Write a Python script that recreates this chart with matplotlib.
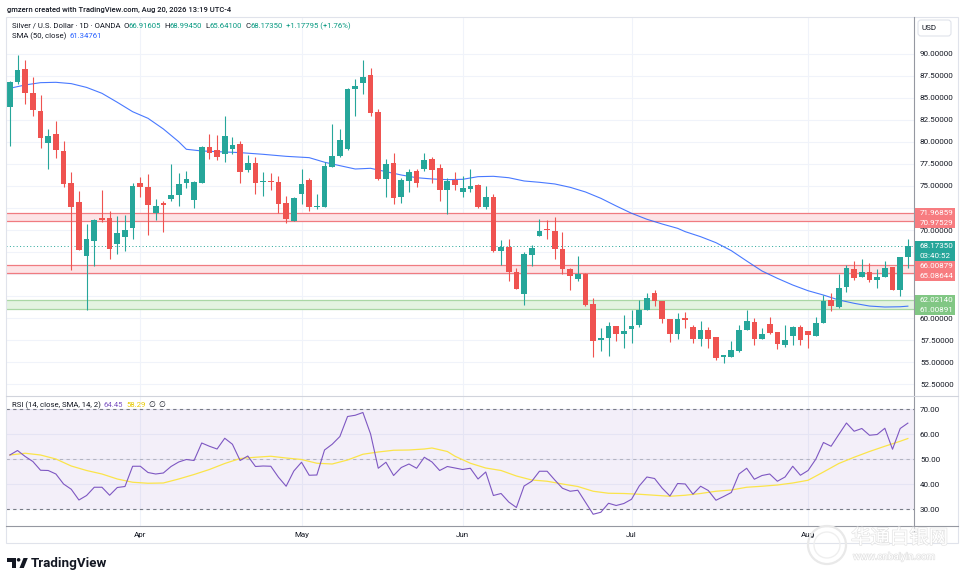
import matplotlib
matplotlib.use("Agg")
import matplotlib.pyplot as plt
import matplotlib.transforms as mtransforms
import matplotlib.patheffects as pe
from matplotlib.patches import Rectangle, Polygon, Circle, FancyBboxPatch
from matplotlib.lines import Line2D
import numpy as np
import pandas as pd

plt.rcParams["font.family"] = ["Roboto", "DejaVu Sans"]

# daily bars, OANDA XAG/USD (no bar on Good Friday)
dates = pd.bdate_range("2026-03-09", "2026-08-20")
dates = dates[dates != pd.Timestamp("2026-04-03")]

opens = [83.98, 86.82, 88.30, 85.57, 83.52, 79.89, 80.91, 78.98, 75.34, 73.18,
         67.08, 68.78, 71.40, 71.36, 68.41, 69.24, 70.19, 75.34, 74.89, 71.97,
         73.07, 73.56, 74.01, 75.38, 73.44, 75.38, 79.47, 79.06, 78.60, 79.24,
         79.77, 76.85, 77.61, 75.45, 75.49, 75.45, 73.07, 71.06, 74.13, 75.68,
         72.61, 72.65, 77.20, 78.44, 79.24, 86.06, 86.74, 87.58, 83.41, 75.83,
         77.61, 73.78, 75.60, 76.70, 76.97, 78.07, 77.05, 74.55, 75.68, 74.35,
         74.66, 75.11, 72.58, 73.75, 67.65, 68.03, 65.23, 62.76, 67.20, 69.35,
         70.04, 69.89, 67.80, 65.57, 64.47, 65.00, 61.59, 57.53, 57.76, 59.06,
         58.22, 58.75, 59.24, 60.94, 62.84, 61.90, 59.89, 58.22, 59.96, 58.94,
         57.58, 58.67, 57.81, 55.60, 55.60, 56.25, 58.67, 59.50, 57.58, 59.32,
         58.41, 56.97, 57.95, 58.98, 58.52, 57.95, 59.47, 62.05, 61.29, 63.49,
         65.57, 64.66, 65.23, 64.28, 64.66, 65.83, 63.22, 66.91605]
highs = [86.93, 89.90, 89.30, 87.35, 85.34, 81.48, 82.42, 80.11, 76.59, 74.43,
         70.68, 71.20, 74.55, 72.16, 71.59, 71.70, 75.30, 76.02, 76.33, 73.52,
         73.30, 77.50, 76.51, 76.70, 75.57, 79.58, 80.91, 80.80, 82.95, 80.57,
         80.11, 78.52, 78.26, 76.59, 76.48, 76.10, 73.86, 73.79, 76.90, 75.91,
         74.09, 77.70, 82.05, 81.48, 86.10, 87.16, 89.32, 88.37, 83.72, 78.07,
         78.75, 75.88, 76.97, 76.93, 78.72, 78.30, 77.53, 75.94, 76.59, 76.14,
         76.93, 75.23, 75.00, 74.06, 68.90, 68.98, 65.68, 67.50, 68.30, 71.25,
         71.17, 71.48, 69.81, 65.72, 67.05, 65.08, 62.24, 58.90, 59.51, 59.13,
         60.34, 60.88, 62.05, 62.88, 63.22, 61.90, 59.89, 60.60, 60.68, 59.17,
         59.62, 58.98, 57.88, 55.80, 57.35, 59.17, 60.88, 60.00, 58.90, 60.08,
         58.41, 59.17, 59.09, 59.17, 58.52, 60.08, 62.65, 62.80, 65.03, 66.00,
         66.44, 66.70, 66.25, 65.60, 66.48, 65.83, 66.93, 68.99450]
lows = [79.60, 86.56, 84.35, 82.99, 79.35, 76.97, 78.22, 74.89, 65.42, 67.70,
        60.91, 65.91, 70.94, 66.67, 67.31, 67.65, 68.98, 73.72, 69.43, 71.14,
        69.77, 73.33, 72.73, 74.74, 72.53, 75.38, 78.10, 77.95, 77.70, 78.60,
        75.34, 76.59, 74.13, 73.90, 74.58, 71.97, 70.76, 71.06, 72.99, 72.20,
        72.39, 72.65, 77.20, 78.30, 79.06, 82.95, 85.45, 82.99, 75.72, 73.75,
        72.99, 73.10, 74.32, 74.85, 76.70, 75.38, 73.33, 71.78, 74.55, 73.79,
        74.35, 72.50, 72.35, 67.54, 66.06, 64.24, 63.26, 61.51, 65.91, 69.35,
        69.00, 66.74, 65.00, 63.22, 64.24, 61.33, 55.60, 56.28, 55.72, 57.39,
        56.56, 57.20, 58.94, 60.94, 61.40, 59.40, 57.24, 57.58, 58.83, 57.20,
        56.85, 56.56, 55.23, 54.85, 55.60, 56.10, 58.67, 56.93, 57.58, 58.14,
        56.48, 56.74, 56.93, 56.93, 56.56, 57.95, 59.47, 60.83, 61.17, 62.92,
        64.32, 64.66, 64.09, 63.41, 64.66, 63.15, 62.50, 65.64100]
closes = [86.80, 88.18, 85.60, 83.67, 80.49, 80.65, 79.13, 75.26, 72.65, 67.76,
          69.01, 71.14, 71.17, 67.84, 69.66, 70.00, 75.00, 74.92, 72.84, 72.73,
          72.80, 73.98, 75.23, 75.80, 75.49, 79.47, 78.78, 78.33, 80.65, 79.66,
          76.56, 77.61, 75.34, 75.57, 75.42, 72.95, 71.21, 73.60, 75.19, 72.58,
          72.73, 77.27, 78.41, 80.23, 85.99, 86.40, 87.35, 83.30, 75.83, 77.50,
          73.60, 75.72, 76.59, 75.38, 77.95, 76.85, 74.55, 75.57, 75.15, 74.77,
          75.00, 72.58, 73.75, 67.65, 68.07, 65.26, 63.30, 67.27, 67.99, 69.89,
          69.97, 67.84, 65.60, 64.81, 65.00, 61.51, 57.39, 57.73, 59.13, 58.22,
          58.52, 59.09, 60.88, 62.27, 61.93, 59.92, 58.18, 59.92, 59.81, 57.58,
          58.64, 57.65, 55.45, 55.80, 56.33, 58.67, 59.62, 57.58, 58.14, 58.33,
          57.05, 57.54, 58.94, 57.54, 58.07, 59.40, 61.93, 61.40, 63.45, 65.64,
          64.58, 65.26, 64.35, 64.66, 65.64, 63.22, 66.93, 68.17350]
change_text = "+1.17795 (+1.76%)"

# SMA(50) at these bars
sma_idx = [0, 2, 4, 6, 8, 10, 12, 14, 16, 18, 20, 22, 23, 25, 27, 29, 30, 33, 36, 39,
           41, 43, 45, 47, 49, 51, 53, 55, 57, 59, 61, 63, 65, 67, 69, 71, 73, 75, 77, 79,
           81, 83, 85, 87, 88, 90, 92, 94, 96, 98, 100, 102, 104, 106, 108, 110, 112, 114, 116, 117]
sma_val = [86.10, 86.48, 86.74, 86.78, 86.63, 86.20, 85.53, 84.51, 83.44, 82.69,
           81.48, 80.03, 79.17, 78.98, 78.90, 78.83, 78.79, 78.60, 78.37, 78.22,
           77.70, 77.31, 76.93, 77.01, 76.63, 76.25, 75.94, 75.80, 75.72, 75.76,
           76.06, 76.10, 75.94, 75.57, 75.42, 75.23, 74.85, 74.32, 73.60, 72.73,
           71.90, 71.22, 70.68, 70.19, 69.81, 69.24, 68.56, 67.65, 66.48, 65.34,
           64.51, 63.75, 63.10, 62.61, 62.05, 61.67, 61.36, 61.25, 61.28, 61.34761]

rsi = [51.7, 53.5, 51.1, 49.1, 45.6, 45.5, 44.1, 40.1, 38.0, 33.7,
       35.5, 38.8, 38.8, 35.6, 38.7, 39.1, 47.2, 47.2, 44.7, 44.1,
       44.5, 47.1, 48.9, 49.9, 49.5, 56.5, 55.2, 54.1, 58.4, 56.0,
       49.5, 51.3, 47.1, 47.3, 47.2, 42.8, 39.2, 45.3, 48.8, 43.6,
       43.7, 53.7, 56.0, 59.1, 67.1, 67.6, 68.7, 60.1, 46.4, 48.8,
       43.5, 46.7, 48.1, 46.4, 50.8, 48.9, 45.5, 47.1, 46.5, 45.9,
       46.4, 42.1, 44.9, 35.5, 36.3, 32.9, 30.7, 39.3, 41.2, 45.2,
       45.2, 41.7, 38.4, 37.2, 37.6, 32.8, 28.0, 28.8, 32.4, 31.5,
       32.3, 34.0, 39.3, 42.9, 42.3, 38.4, 35.3, 40.3, 40.1, 36.0,
       39.2, 37.5, 33.6, 35.1, 36.7, 44.1, 46.4, 42.0, 43.5, 44.1,
       41.2, 42.9, 47.2, 43.6, 45.5, 50.0, 56.7, 55.2, 59.9, 64.5,
       61.2, 62.3, 59.6, 59.9, 62.4, 54.0, 62.3, 64.45]

rsi_ma_idx = [0, 2, 4, 6, 8, 10, 12, 14, 16, 18, 20, 22, 24, 26, 28, 30, 32, 34, 36, 38,
              40, 42, 44, 46, 48, 50, 52, 54, 55, 57, 58, 60, 62, 64, 66, 68, 70, 72, 74, 76,
              78, 80, 82, 84, 86, 88, 90, 92, 94, 96, 98, 100, 102, 104, 106, 108, 110, 112,
              114, 116, 117]
rsi_ma_val = [51.7, 52.4, 51.7, 50.1, 47.3, 45.5, 44.1, 42.1, 40.8, 40.4,
              40.5, 42.1, 43.9, 45.9, 48.3, 50.3, 50.8, 51.2, 50.5, 49.9,
              48.4, 48.1, 49.7, 52.0, 52.9, 53.6, 53.7, 54.1, 54.5, 53.1,
              51.2, 48.4, 46.5, 45.5, 43.3, 41.7, 41.2, 40.1, 39.1, 37.2,
              36.4, 36.3, 36.0, 35.6, 35.2, 35.6, 36.3, 37.2, 37.7, 38.8,
              39.2, 39.7, 40.5, 41.6, 44.9, 48.3, 50.8, 53.1, 55.2, 57.2, 58.29]

# support / resistance zones
zone_lo = [70.97529, 65.08644, 61.00891]
zone_hi = [71.96859, 66.00879, 62.02140]
zone_kind = ["res", "res", "sup"]

price_ticks = [52.5, 55.0, 57.5, 60.0, 62.5, 65.0, 67.5, 70.0, 72.5, 75.0, 77.5, 80.0, 82.5, 85.0, 87.5, 90.0]
rsi_ticks = [30, 40, 50, 60, 70]
countdown = "03:40:52"

UP, DOWN = "#26a69a", "#ef5350"
TEXT = "#131722"
GRID = "#f0f3fa"
FS = 5.8

W, H = 964, 582
L, R, FRAME_R = 6, 914, 958
PRICE_TOP, PRICE_BOT = 17, 396
RSI_BOT, AXIS_BOT = 526, 543

fig = plt.figure(figsize=(W / 100, H / 100), dpi=100)
fig.patch.set_facecolor("white")
pix = mtransforms.Affine2D().scale(1, -1).translate(0, H)  # pixel coords, y down

ax = fig.add_axes([L / W, 1 - PRICE_BOT / H, (R - L) / W, (PRICE_BOT - PRICE_TOP) / H])
ax_rsi = fig.add_axes([L / W, 1 - RSI_BOT / H, (R - L) / W, (RSI_BOT - PRICE_BOT) / H], sharex=ax)

x = np.arange(len(closes))
o, h, l, c = map(np.array, (opens, highs, lows, closes))
colors = np.where(c >= o, UP, DOWN)
month_pos = [i for i in range(1, len(dates)) if dates[i].month != dates[i - 1].month]
month_lab = [dates[i].strftime("%b") for i in month_pos]

for a in (ax, ax_rsi):
    for s in a.spines.values():
        s.set_visible(False)
    a.set_axisbelow(True)
    a.yaxis.tick_right()
    a.set_xticks(month_pos)
    a.xaxis.grid(True, color=GRID, lw=0.8)
    a.yaxis.grid(True, color=GRID, lw=0.8)
    a.tick_params(length=0, labelsize=FS, labelcolor=TEXT, pad=4.3)

# price pane
ax.set_xlim(-0.5, 117.8)
ax.set_ylim(51.14, 94.2)
ax.set_yticks(price_ticks)
ax.tick_params(labelbottom=False)

for lo_, hi_, kind in zip(zone_lo, zone_hi, zone_kind):
    fill, edge = ("#fde4e6", "#f07b80") if kind == "res" else ("#e3f3e1", "#a9d7a5")
    ax.axhspan(lo_, hi_, color=fill, lw=0, zorder=1)
    ax.axhline(lo_, color=edge, lw=0.9, zorder=1.5)
    ax.axhline(hi_, color=edge, lw=0.9, zorder=1.5)

ax.axhline(closes[-1], color=UP, lw=0.7, ls=(0, (1, 2.5)), zorder=1.6)
ax.plot(sma_idx, sma_val, color="#2962ff", lw=0.8, alpha=0.85, zorder=2)

body_lo = np.minimum(o, c)
body_h = np.maximum(np.abs(c - o), 0.12)
ax.vlines(x, l, h, colors=colors, lw=0.8, zorder=3)
ax.bar(x, body_h, bottom=body_lo, width=0.74, color=colors, linewidth=0, zorder=3)

# RSI pane
ax_rsi.set_ylim(23.3, 75.3)
ax_rsi.set_yticks(rsi_ticks)
ax_rsi.set_yticklabels([f"{t:.2f}" for t in rsi_ticks])
ax_rsi.set_xticklabels(month_lab)
ax_rsi.tick_params(axis="x", pad=4.2)
ax_rsi.axhspan(30, 70, color="#7e57c2", alpha=0.09, lw=0, zorder=1)
ax_rsi.axhline(70, color="#787b86", lw=0.8, ls=(0, (3, 3)), zorder=1.5)
ax_rsi.axhline(30, color="#787b86", lw=0.8, ls=(0, (3, 3)), zorder=1.5)
ax_rsi.axhline(50, color="#787b86", lw=0.8, ls=(0, (3, 3)), alpha=0.45, zorder=1.5)
ax_rsi.plot(rsi_ma_idx, rsi_ma_val, color="#fbe44a", lw=0.9, zorder=2)
ax_rsi.plot(x, rsi, color="#7e57c2", lw=0.8, zorder=3)

# frame and separators
fig.add_artist(Rectangle((L, PRICE_TOP), FRAME_R - L, AXIS_BOT - PRICE_TOP, transform=pix,
                         fill=False, ec="#e0e3eb", lw=0.8, zorder=4))
fig.add_artist(Line2D([R, R], [PRICE_TOP, AXIS_BOT], transform=pix, color="#9598a1", lw=0.8, zorder=4))
fig.add_artist(Line2D([L, FRAME_R], [PRICE_BOT, PRICE_BOT], transform=pix, color="#d1d4dc", lw=0.8, zorder=4))
fig.add_artist(Line2D([L, FRAME_R], [RSI_BOT, RSI_BOT], transform=pix, color="#9598a1", lw=0.8, zorder=4))

fig.add_artist(FancyBboxPatch((918, 20), 33, 16, boxstyle="round,pad=0,rounding_size=3", transform=pix,
                              fc="white", ec="#e0e3eb", lw=0.8, zorder=5))
fig.text(922, 28, "USD", transform=pix, fontsize=FS, color=TEXT, va="center", zorder=6)


def text_run(x0, y0, pieces, size=FS, **kw):
    renderer = fig.canvas.get_renderer()
    for s, col, gap in pieces:
        t = fig.text(x0, y0, s, transform=pix, fontsize=size, color=col, va="center", ha="left", zorder=6, **kw)
        x0 += t.get_window_extent(renderer).width + gap


TEAL = "#089981"
fig.text(7, 9.5, "gmzern created with TradingView.com, Aug 20, 2026 13:19 UTC-4", transform=pix,
         fontsize=5.5, color=TEXT, fontweight="medium", va="center")
text_run(12, 26, [("Silver / U.S. Dollar · 1D · OANDA", TEXT, 3),
                  ("O", TEXT, 0), (f"{opens[-1]:.5f}", TEAL, 3),
                  ("H", TEXT, 0), (f"{highs[-1]:.5f}", TEAL, 3),
                  ("L", TEXT, 0), (f"{lows[-1]:.5f}", TEAL, 3),
                  ("C", TEXT, 0), (f"{closes[-1]:.5f}", TEAL, 3),
                  (change_text, TEAL, 0)], size=5.6)
text_run(12, 36.5, [("SMA (50, close)", TEXT, 3), (f"{sma_val[-1]:.5f}", "#2962ff", 0)], size=5.6)
text_run(12, 405, [("RSI (14, close, SMA, 14, 2)", TEXT, 3), (f"{rsi[-1]:.2f}", "#7e57c2", 3),
                   (f"{rsi_ma_val[-1]:.2f}", "#e8c900", 3), ("∅", TEXT, 3), ("∅", TEXT, 0)], size=5.6)


# price tags on the right scale
def price_y(p):
    return H - ax.transData.transform((0, p))[1]


tags = [(zone_hi[0], [f"{zone_hi[0]:.5f}"], "#f77c80"),
        (zone_lo[0], [f"{zone_lo[0]:.5f}"], "#f77c80"),
        (closes[-1], [f"{closes[-1]:.5f}", countdown], UP),
        (zone_hi[1], [f"{zone_hi[1]:.5f}"], "#f77c80"),
        (zone_lo[1], [f"{zone_lo[1]:.5f}"], "#f77c80"),
        (zone_hi[2], [f"{zone_hi[2]:.5f}"], "#81c784"),
        (zone_lo[2], [f"{zone_lo[2]:.5f}"], "#81c784")]
boxes = []
prev_bottom = -1e9
for p, lines, fc in tags:
    top = max(price_y(p) - 5, prev_bottom)
    hgt = 10 * len(lines)
    fig.add_artist(Rectangle((914.5, top), 40, hgt, transform=pix, fc=fc, ec="none", zorder=5))
    for k, s in enumerate(lines):
        fig.text(919.5, top + 5 + 10 * k, s, transform=pix, fontsize=FS, color="white", va="center", zorder=6)
    boxes.append((top, top + hgt))
    prev_bottom = top + hgt

# scale labels hidden behind the tags stay blank
ax.set_yticklabels(["" if any(t0 <= price_y(t) <= t1 for t0, t1 in boxes) else f"{t:.5f}"
                    for t in price_ticks])

# TradingView logo
fig.add_artist(Polygon([(7, 558), (16, 558), (16, 568), (12, 568), (12, 561.5), (7, 561.5)],
                       closed=True, transform=pix, fc=TEXT, ec="none"))
fig.add_artist(Circle((18.6, 559.8), 1.8, transform=pix, fc=TEXT, ec="none"))
fig.add_artist(Polygon([(19.5, 568), (23.5, 558), (27.8, 558), (23.8, 568)], closed=True,
                       transform=pix, fc=TEXT, ec="none"))
fig.text(31, 563, "TradingView", transform=pix, fontsize=9.6, fontweight="bold", color=TEXT, va="center")

# faint watermark
halo = [pe.withStroke(linewidth=1.0, foreground="#e4e4e4")]
fig.add_artist(Circle((827, 545), 19, transform=pix, fill=False, ec="#e9e9e9", lw=1.6, zorder=7))
fig.add_artist(Circle((827, 545), 13, transform=pix, fill=False, ec="#efefef", lw=1.0, zorder=7))
fig.text(851, 538, "华通白银网", transform=pix, fontsize=14, color="white", va="center",
         family=["Noto Sans CJK SC", "DejaVu Sans"], path_effects=halo, zorder=7)
fig.text(853, 556.5, "www.cnbaiyin.com", transform=pix, fontsize=7, color="white", va="center",
         path_effects=halo, zorder=7)

fig.savefig("out.png", dpi=100)
